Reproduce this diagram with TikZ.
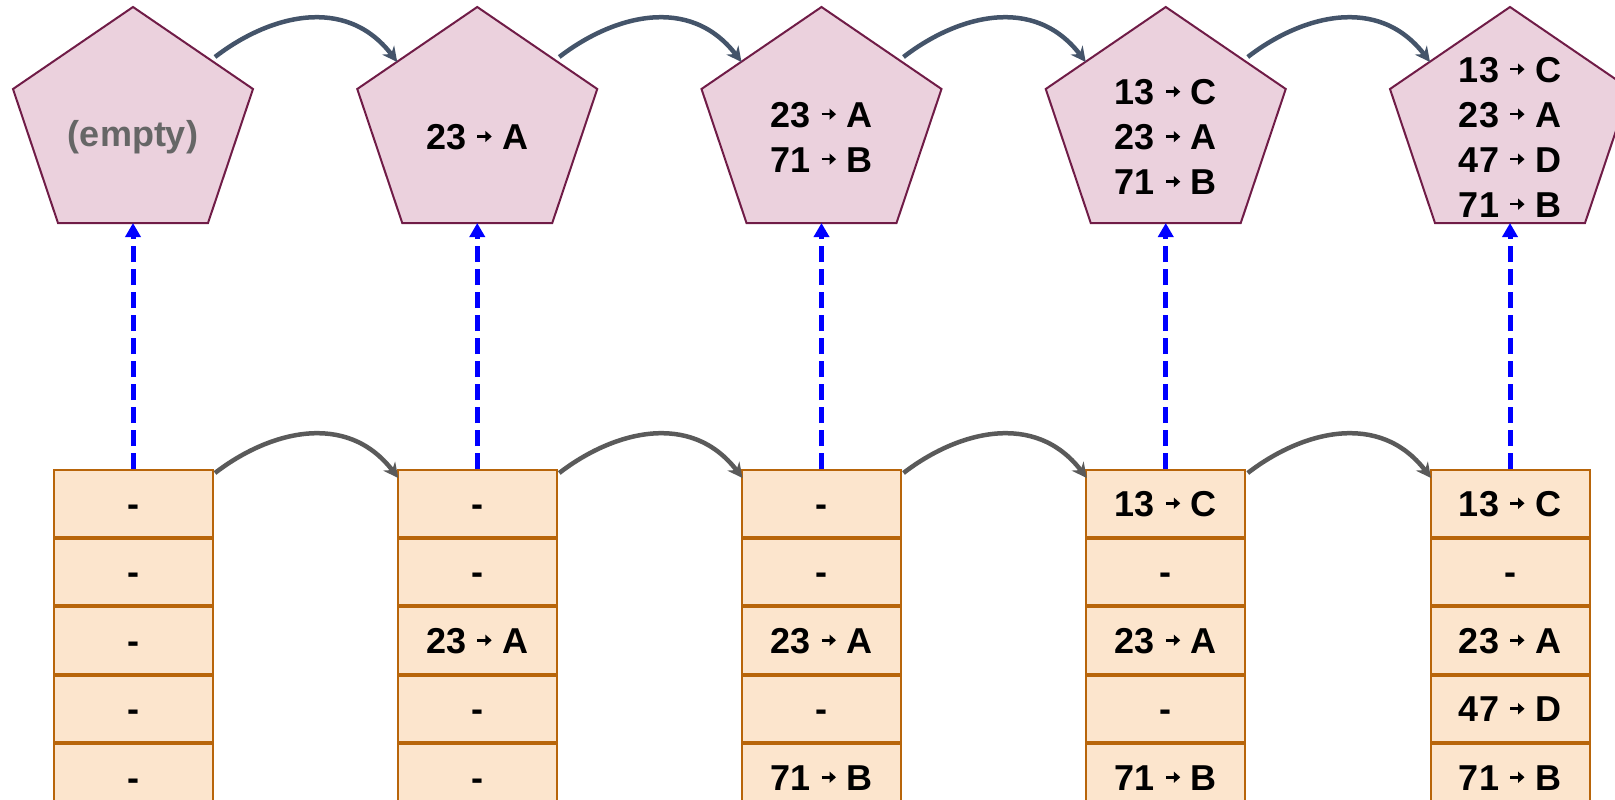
\documentclass[tikz,border=0pt]{standalone}
\usepackage{fontspec}
\setmainfont{Liberation Sans}
\usetikzlibrary{arrows.meta}
\definecolor{pfill}{HTML}{EBD1DD}
\definecolor{pstroke}{HTML}{701C47}
\definecolor{tfill}{HTML}{FCE5CD}
\definecolor{tstroke}{HTML}{B8650A}
\definecolor{topc}{HTML}{44546A}
\definecolor{botc}{HTML}{5A5A5A}
\definecolor{emptyc}{HTML}{666666}
\definecolor{linkc}{HTML}{0000FF}
\newcommand{\smallarr}{\tikz[baseline=0pt,x=1pt,y=1pt]{\path[use as bounding box] (-1,0) rectangle (15,20);
  \draw[line width=2.6pt, black, line cap=butt, -{Triangle[length=6.5pt,width=11pt]}] (0,12.9) -- (14.5,12.9);}}
\newcommand{\kv}[2]{#1 \smallarr{} #2}
\begin{document}
\begin{tikzpicture}[x=1pt,y=-1pt,
  pent/.style={draw=pstroke, fill=pfill, line width=2pt, line join=miter},
  ptext/.style={font=\bfseries\fontsize{36}{45}\selectfont, align=center, text=black, inner sep=0pt},
  cell/.style={draw=tstroke, fill=tfill, line width=2pt, minimum width=159pt, minimum height=66.5pt,
    inner sep=0pt, anchor=north, text height=25.8pt, text depth=0pt,
    font=\bfseries\fontsize{36}{45}\selectfont},
  cur/.style={line width=4.5pt, -{Stealth[length=15pt,width=15pt,inset=5pt]}},
  link/.style={draw=linkc, line width=5pt, dash pattern=on 16pt off 7pt, -{Triangle[length=14pt,width=15pt]}}
]
\useasboundingbox (0,0) rectangle (1615,800);
\clip (0,0) rectangle (1615,800);

\foreach \i/\cx in {1/133,2/477.25,3/821.5,4/1165.75,5/1510}{
  \draw[pent] (\cx,7) -- (\cx+120,89) -- (\cx+75,223) -- (\cx-75,223) -- (\cx-120,89) -- cycle;
  \coordinate (pb\i) at (\cx,223);
  \coordinate (po\i) at (\cx+82,57);
  \coordinate (pi\i) at (\cx-80,62);
  \coordinate (to\i) at (\cx+82,473);
  \coordinate (ti\i) at (\cx-79,478);
}

% pentagon texts
\node[ptext, text=emptyc] (p1) at (133,137) {(empty)};
\node[ptext] (p2) at (477.25,137) {\kv{23}{A}};
\node[ptext] (p3) at (821.5,137) {\kv{23}{A}\\\kv{71}{B}};
\node[ptext] (p4) at (1165.75,137) {\kv{13}{C}\\\kv{23}{A}\\\kv{71}{B}};
\node[ptext] (p5) at (1510,137) {\kv{13}{C}\\\kv{23}{A}\\\kv{47}{D}\\\kv{71}{B}};

% tables
\node[cell] (t1-1) at (133,469) {-};
\node[cell] (t1-2) at (t1-1.south) {-};
\node[cell] (t1-3) at (t1-2.south) {-};
\node[cell] (t1-4) at (t1-3.south) {-};
\node[cell] (t1-5) at (t1-4.south) {-};

\node[cell] (t2-1) at (477.25,469) {-};
\node[cell] (t2-2) at (t2-1.south) {-};
\node[cell] (t2-3) at (t2-2.south) {\kv{23}{A}};
\node[cell] (t2-4) at (t2-3.south) {-};
\node[cell] (t2-5) at (t2-4.south) {-};

\node[cell] (t3-1) at (821.5,469) {-};
\node[cell] (t3-2) at (t3-1.south) {-};
\node[cell] (t3-3) at (t3-2.south) {\kv{23}{A}};
\node[cell] (t3-4) at (t3-3.south) {-};
\node[cell] (t3-5) at (t3-4.south) {\kv{71}{B}};

\node[cell] (t4-1) at (1165.75,469) {\kv{13}{C}};
\node[cell] (t4-2) at (t4-1.south) {-};
\node[cell] (t4-3) at (t4-2.south) {\kv{23}{A}};
\node[cell] (t4-4) at (t4-3.south) {-};
\node[cell] (t4-5) at (t4-4.south) {\kv{71}{B}};

\node[cell] (t5-1) at (1510,469) {\kv{13}{C}};
\node[cell] (t5-2) at (t5-1.south) {-};
\node[cell] (t5-3) at (t5-2.south) {\kv{23}{A}};
\node[cell] (t5-4) at (t5-3.south) {\kv{47}{D}};
\node[cell] (t5-5) at (t5-4.south) {\kv{71}{B}};

% blue dashed links
\foreach \i in {1,...,5}{
  \draw[link] (t\i-1.north) -- (pb\i);
}

% curved connectors
\foreach \i/\j in {1/2,2/3,3/4,4/5}{
  \draw[cur, draw=topc] (po\i) .. controls +(53,-41) and +(-52,-68) .. (pi\j);
  \draw[cur, draw=botc] (to\i) .. controls +(53,-41) and +(-52,-68) .. (ti\j);
}
\end{tikzpicture}
\end{document}
